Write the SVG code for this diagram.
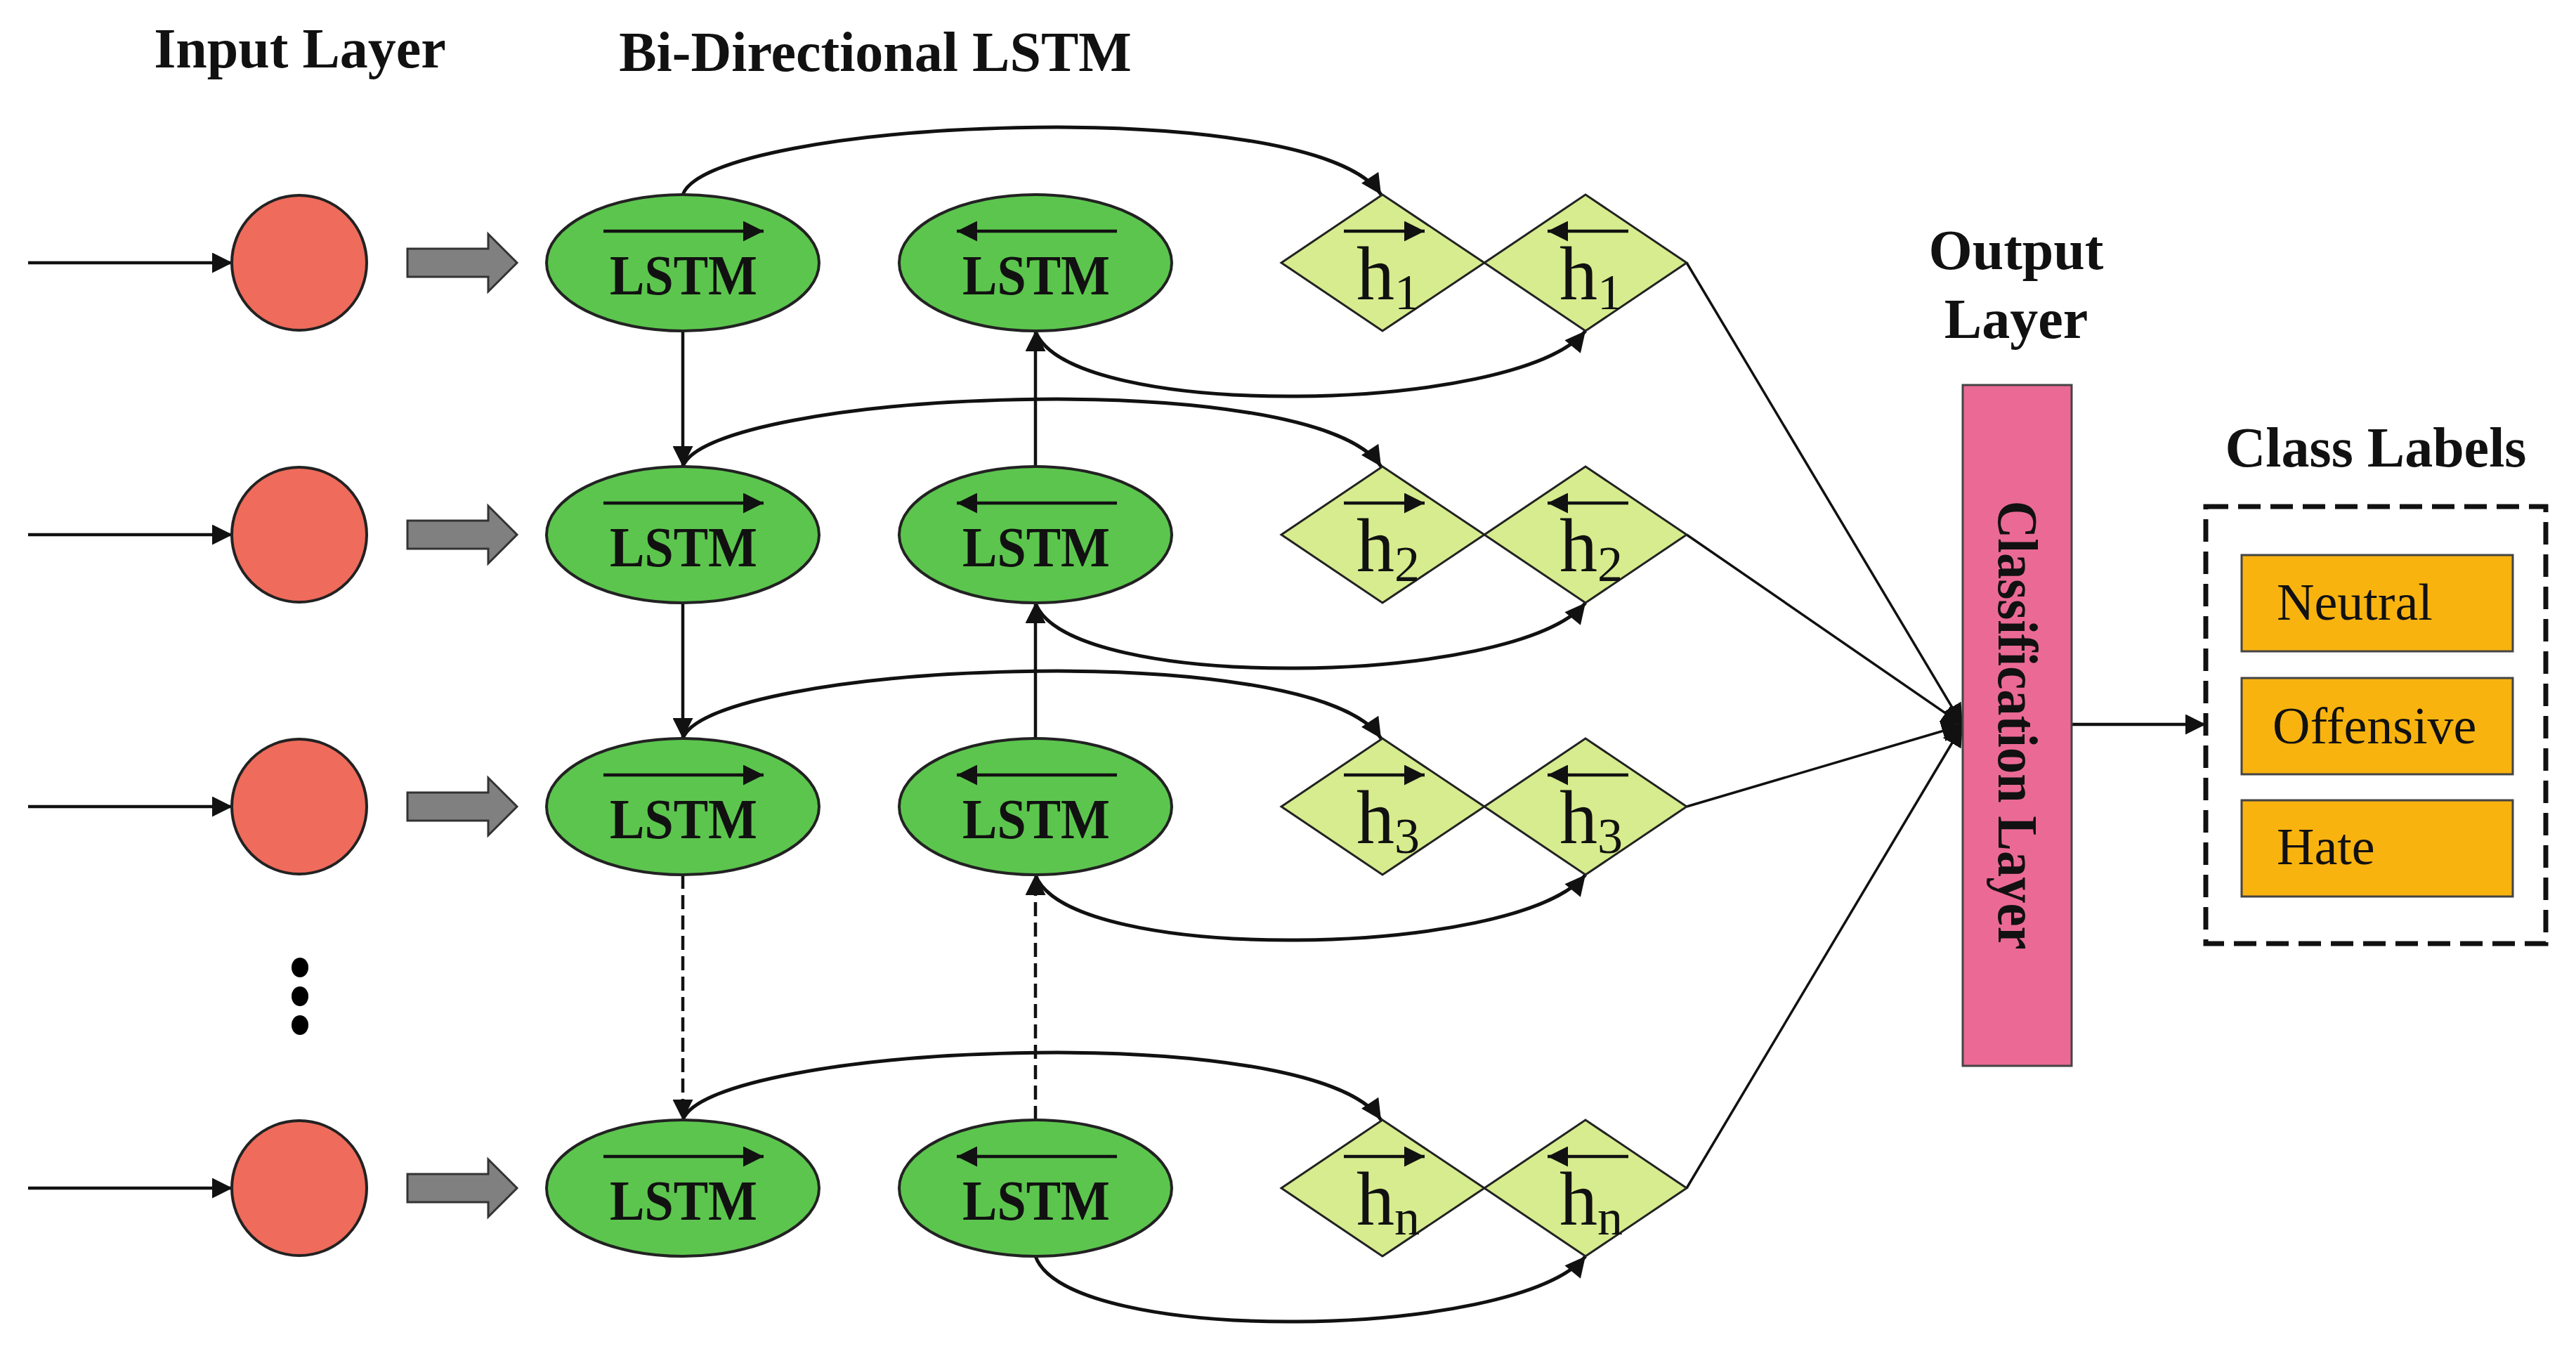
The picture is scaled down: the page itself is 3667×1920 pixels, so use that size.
<svg xmlns="http://www.w3.org/2000/svg" width="3667" height="1920" viewBox="0 0 3667 1920">
<style>
.title{font-family:"Liberation Serif","Times New Roman",serif;font-weight:bold;font-size:80px;fill:#111;text-anchor:middle}
.lstm{font-family:"Liberation Serif","Times New Roman",serif;font-weight:bold;font-size:80px;fill:#111;text-anchor:middle}
.h{font-family:"Liberation Serif","Times New Roman",serif;font-size:108px;fill:#111}
.lbl{font-family:"Liberation Serif","Times New Roman",serif;font-size:74px;fill:#111}
.inp{fill:#EF6B5B;stroke:#222;stroke-width:4}
.cell{fill:#5CC54E;stroke:#222;stroke-width:4}
.dia{fill:#D6EC8E;stroke:#222;stroke-width:3}
.blk{fill:#808080;stroke:#333;stroke-width:3}
.ln{fill:none;stroke:#111;stroke-width:4.5}
.cv{fill:none;stroke:#111;stroke-width:5}
.thin{fill:none;stroke:#111;stroke-width:3.5}
.dash{stroke-dasharray:20 9}
.cls{fill:#F9B30F;stroke:#444;stroke-width:3}
</style>
<defs>
<marker id="ah" viewBox="0 0 10 10" refX="10" refY="5" markerWidth="31" markerHeight="29" markerUnits="userSpaceOnUse" orient="auto"><path d="M0,0 L10,5 L0,10 z" fill="#111"/></marker>
<marker id="ahs" viewBox="0 0 10 10" refX="10" refY="5" markerWidth="30" markerHeight="30" markerUnits="userSpaceOnUse" orient="auto"><path d="M0,0 L10,5 L0,10 z" fill="#111"/></marker>
<path id="block" d="M580,-20 L695,-20 L695,-41 L736,0 L695,41 L695,20 L580,20 Z"/>
</defs>
<rect width="3667" height="1920" fill="#fff"/>

<g id="titles">
<text class="title" x="427" y="96">Input Layer</text>
<text class="title" x="1246" y="101">Bi-Directional LSTM</text>
<text class="title" x="2870" y="383">Output</text>
<text class="title" x="2870" y="481">Layer</text>
<text class="title" x="3382" y="664">Class Labels</text>
</g>

<g id="connectors">
<line class="ln" x1="40" y1="374" x2="331" y2="374" marker-end="url(#ah)"/>
<line class="ln" x1="40" y1="761" x2="331" y2="761" marker-end="url(#ah)"/>
<line class="ln" x1="40" y1="1148" x2="331" y2="1148" marker-end="url(#ah)"/>
<line class="ln" x1="40" y1="1691" x2="331" y2="1691" marker-end="url(#ah)"/>
<use href="#block" class="blk" y="374"/>
<use href="#block" class="blk" y="761"/>
<use href="#block" class="blk" y="1148"/>
<use href="#block" class="blk" y="1691"/>
<line class="ln" x1="972" y1="471" x2="972" y2="664" marker-end="url(#ah)"/>
<line class="ln" x1="972" y1="858" x2="972" y2="1051" marker-end="url(#ah)"/>
<line class="ln dash" x1="972" y1="1245" x2="972" y2="1594" marker-end="url(#ah)"/>
<line class="ln" x1="1474" y1="664" x2="1474" y2="471" marker-end="url(#ah)"/>
<line class="ln" x1="1474" y1="1051" x2="1474" y2="858" marker-end="url(#ah)"/>
<line class="ln dash" x1="1474" y1="1594" x2="1474" y2="1245" marker-end="url(#ah)"/>
<path class="cv" d="M972,277 C1010,170 1870,130 1966,277" marker-end="url(#ah)"/>
<path class="cv" d="M972,664 C1010,557 1870,517 1966,664" marker-end="url(#ah)"/>
<path class="cv" d="M972,1051 C1010,944 1870,904 1966,1051" marker-end="url(#ah)"/>
<path class="cv" d="M972,1594 C1010,1487 1870,1447 1966,1594" marker-end="url(#ah)"/>
<path class="cv" d="M1474,471 C1520,600 2160,590 2257,471" marker-end="url(#ah)"/>
<path class="cv" d="M1474,858 C1520,987 2160,977 2257,858" marker-end="url(#ah)"/>
<path class="cv" d="M1474,1245 C1520,1374 2160,1364 2257,1245" marker-end="url(#ah)"/>
<path class="cv" d="M1474,1788 C1520,1917 2160,1907 2257,1788" marker-end="url(#ah)"/>
<line class="thin" x1="2401" y1="374" x2="2794" y2="1032" marker-end="url(#ahs)"/>
<line class="thin" x1="2401" y1="761" x2="2794" y2="1032" marker-end="url(#ahs)"/>
<line class="thin" x1="2401" y1="1148" x2="2794" y2="1032" marker-end="url(#ahs)"/>
<line class="thin" x1="2401" y1="1691" x2="2794" y2="1032" marker-end="url(#ahs)"/>
<line class="ln" x1="2949" y1="1031" x2="3140" y2="1031" marker-end="url(#ah)"/>
</g>

<g id="input-nodes">
<g id="x1"><circle class="inp" cx="426" cy="374" r="96"/></g>
<g id="x2"><circle class="inp" cx="426" cy="761" r="96"/></g>
<g id="x3"><circle class="inp" cx="426" cy="1148" r="96"/></g>
<g id="ellipsis"><ellipse cx="427" cy="1377" rx="12" ry="14" fill="#000"/><ellipse cx="427" cy="1418" rx="12" ry="14" fill="#000"/><ellipse cx="427" cy="1459" rx="12" ry="14" fill="#000"/></g>
<g id="xn"><circle class="inp" cx="426" cy="1691" r="96"/></g>
</g>

<g id="lstm-forward">
<g id="f1"><ellipse class="cell" cx="972" cy="374" rx="194" ry="97"/><line class="ln" x1="859" y1="329" x2="1087" y2="329" marker-end="url(#ah)"/><text class="lstm" x="973" y="419" textLength="210" lengthAdjust="spacingAndGlyphs">LSTM</text></g>
<g id="f2"><ellipse class="cell" cx="972" cy="761" rx="194" ry="97"/><line class="ln" x1="859" y1="716" x2="1087" y2="716" marker-end="url(#ah)"/><text class="lstm" x="973" y="806" textLength="210" lengthAdjust="spacingAndGlyphs">LSTM</text></g>
<g id="f3"><ellipse class="cell" cx="972" cy="1148" rx="194" ry="97"/><line class="ln" x1="859" y1="1103" x2="1087" y2="1103" marker-end="url(#ah)"/><text class="lstm" x="973" y="1193" textLength="210" lengthAdjust="spacingAndGlyphs">LSTM</text></g>
<g id="fn"><ellipse class="cell" cx="972" cy="1691" rx="194" ry="97"/><line class="ln" x1="859" y1="1646" x2="1087" y2="1646" marker-end="url(#ah)"/><text class="lstm" x="973" y="1736" textLength="210" lengthAdjust="spacingAndGlyphs">LSTM</text></g>
</g>

<g id="lstm-backward">
<g id="b1"><ellipse class="cell" cx="1474" cy="374" rx="194" ry="97"/><line class="ln" x1="1590" y1="329" x2="1362" y2="329" marker-end="url(#ah)"/><text class="lstm" x="1475" y="419" textLength="210" lengthAdjust="spacingAndGlyphs">LSTM</text></g>
<g id="b2"><ellipse class="cell" cx="1474" cy="761" rx="194" ry="97"/><line class="ln" x1="1590" y1="716" x2="1362" y2="716" marker-end="url(#ah)"/><text class="lstm" x="1475" y="806" textLength="210" lengthAdjust="spacingAndGlyphs">LSTM</text></g>
<g id="b3"><ellipse class="cell" cx="1474" cy="1148" rx="194" ry="97"/><line class="ln" x1="1590" y1="1103" x2="1362" y2="1103" marker-end="url(#ah)"/><text class="lstm" x="1475" y="1193" textLength="210" lengthAdjust="spacingAndGlyphs">LSTM</text></g>
<g id="bn"><ellipse class="cell" cx="1474" cy="1691" rx="194" ry="97"/><line class="ln" x1="1590" y1="1646" x2="1362" y2="1646" marker-end="url(#ah)"/><text class="lstm" x="1475" y="1736" textLength="210" lengthAdjust="spacingAndGlyphs">LSTM</text></g>
</g>

<g id="hidden-forward">
<g id="hf1"><path class="dia" d="M1824,374 L1968,277 L2113,374 L1968,471 Z"/><line class="ln" x1="1913" y1="329" x2="2028" y2="329" marker-end="url(#ah)"/><text class="h" x="1931" y="426">h<tspan dy="14" font-size="72">1</tspan></text></g>
<g id="hf2"><path class="dia" d="M1824,761 L1968,664 L2113,761 L1968,858 Z"/><line class="ln" x1="1913" y1="716" x2="2028" y2="716" marker-end="url(#ah)"/><text class="h" x="1931" y="813">h<tspan dy="14" font-size="72">2</tspan></text></g>
<g id="hf3"><path class="dia" d="M1824,1148 L1968,1051 L2113,1148 L1968,1245 Z"/><line class="ln" x1="1913" y1="1103" x2="2028" y2="1103" marker-end="url(#ah)"/><text class="h" x="1931" y="1200">h<tspan dy="14" font-size="72">3</tspan></text></g>
<g id="hfn"><path class="dia" d="M1824,1691 L1968,1594 L2113,1691 L1968,1788 Z"/><line class="ln" x1="1913" y1="1646" x2="2028" y2="1646" marker-end="url(#ah)"/><text class="h" x="1931" y="1743">h<tspan dy="14" font-size="72">n</tspan></text></g>
</g>

<g id="hidden-backward">
<g id="hb1"><path class="dia" d="M2113,374 L2257,277 L2401,374 L2257,471 Z"/><line class="ln" x1="2318" y1="329" x2="2203" y2="329" marker-end="url(#ah)"/><text class="h" x="2220" y="426">h<tspan dy="14" font-size="72">1</tspan></text></g>
<g id="hb2"><path class="dia" d="M2113,761 L2257,664 L2401,761 L2257,858 Z"/><line class="ln" x1="2318" y1="716" x2="2203" y2="716" marker-end="url(#ah)"/><text class="h" x="2220" y="813">h<tspan dy="14" font-size="72">2</tspan></text></g>
<g id="hb3"><path class="dia" d="M2113,1148 L2257,1051 L2401,1148 L2257,1245 Z"/><line class="ln" x1="2318" y1="1103" x2="2203" y2="1103" marker-end="url(#ah)"/><text class="h" x="2220" y="1200">h<tspan dy="14" font-size="72">3</tspan></text></g>
<g id="hbn"><path class="dia" d="M2113,1691 L2257,1594 L2401,1691 L2257,1788 Z"/><line class="ln" x1="2318" y1="1646" x2="2203" y2="1646" marker-end="url(#ah)"/><text class="h" x="2220" y="1743">h<tspan dy="14" font-size="72">n</tspan></text></g>
</g>

<g id="classification-layer">
<rect x="2794" y="548" width="155" height="969" fill="#EB6A95" stroke="#444" stroke-width="3"/>
<text class="title" transform="translate(2845,1032) rotate(90)" textLength="639" lengthAdjust="spacingAndGlyphs">Classification Layer</text>
</g>

<g id="class-labels">
<rect x="3140" y="721" width="484" height="622" fill="none" stroke="#111" stroke-width="7" stroke-dasharray="32 14"/>
<g id="neutral"><rect class="cls" x="3191" y="790" width="386" height="137"/><text class="lbl" x="3241" y="882">Neutral</text></g>
<g id="offensive"><rect class="cls" x="3191" y="965" width="386" height="137"/><text class="lbl" x="3235" y="1058">Offensive</text></g>
<g id="hate"><rect class="cls" x="3191" y="1139" width="386" height="137"/><text class="lbl" x="3241" y="1230">Hate</text></g>
</g>
</svg>
